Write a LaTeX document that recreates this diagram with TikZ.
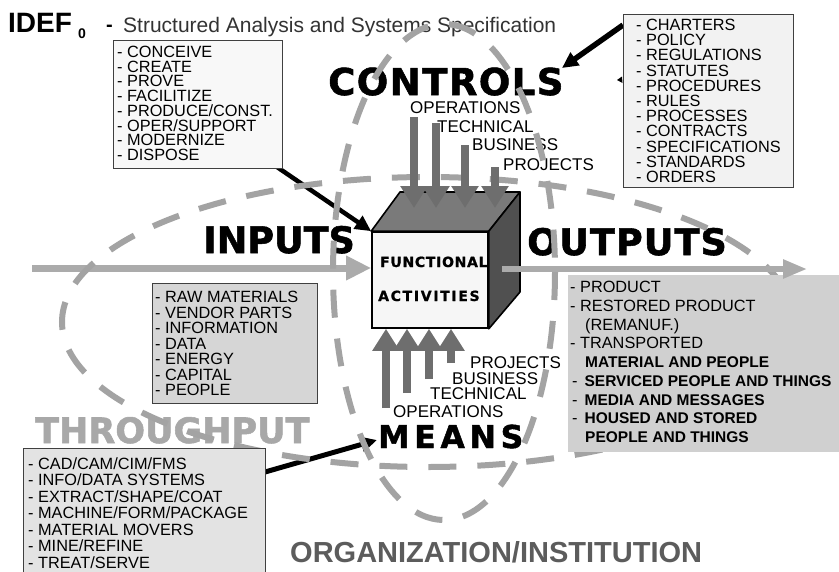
\documentclass[tikz,border=0pt]{standalone}
\usepackage{fontspec}
\setmainfont{Liberation Sans}
\newfontfamily\heavy{DejaVu Sans}
\usetikzlibrary{arrows.meta}
\definecolor{dashgray}{HTML}{A3A3A3}
\definecolor{arrowgray}{HTML}{6E6E6E}
\definecolor{iogray}{HTML}{ABABAB}
\definecolor{topc}{HTML}{7A7A7A}
\definecolor{rightc}{HTML}{505050}
\definecolor{frontc}{HTML}{F6F6F6}
\definecolor{thrugray}{HTML}{A8A8A8}
\definecolor{orggray}{HTML}{5C5C5C}
\definecolor{titlegray}{HTML}{333333}
\definecolor{boxline}{HTML}{404040}
\begin{document}
\begin{tikzpicture}[x=1pt,y=-1pt,
  biglabel/.style={anchor=base west, inner sep=0},
  smalllabel/.style={anchor=base west, inner sep=0, font=\fontsize{17}{17}\selectfont},
  listtext/.style={anchor=north west, inner sep=0, align=left},
  listbox/.style={draw=boxline, line width=1pt, anchor=north west, inner sep=0},
  ctrlarrow/.style={draw=arrowgray, line width=8pt, -{Triangle[length=22pt,width=26pt]}},
  inarrow/.style={draw=iogray, line width=7pt, -{Triangle[length=25pt,width=23pt]}},
  outarrow/.style={draw=iogray, line width=5.5pt, -{Triangle[length=24pt,width=18pt]}},
  blackarrow/.style={draw=black, line width=4.5pt, -{Triangle[length=16pt,width=15pt]}},
  dashring/.style={draw=dashgray, line width=6pt, dash pattern=on 28pt off 21pt}
]
\useasboundingbox (0,0) rectangle (839,571);
\fill[white] (0,0) rectangle (839,571);

% ---------- title ----------
\node[biglabel, font=\bfseries\fontsize{28}{28}\selectfont] (idef) at (8,32) {IDEF};
\node[biglabel, font=\bfseries\fontsize{14}{14}\selectfont] (sub0) at (78,38) {0};
\node[biglabel, font=\bfseries\fontsize{20}{20}\selectfont] (titledash) at (106,31) {-};
\node[biglabel, font=\fontsize{21}{21}\selectfont, text=titlegray] (subtitle) at (123,32) {Structured Analysis and Systems Specification};

% ---------- big labels ----------
\node[biglabel, font=\heavy\bfseries\fontsize{37}{37}\selectfont\addfontfeatures{LetterSpace=4,FakeBold=1.5}] (controls) at (328,95) {CONTROLS};
\node[biglabel, font=\heavy\bfseries\fontsize{36.5}{36.5}\selectfont\addfontfeatures{FakeBold=1.5}] (inputs) at (203,253) {INPUTS};
\node[biglabel, font=\heavy\bfseries\fontsize{36.5}{36.5}\selectfont\addfontfeatures{LetterSpace=3,FakeBold=1.5}] (outputs) at (527,255) {OUTPUTS};
\node[biglabel, font=\heavy\bfseries\fontsize{31.5}{31.5}\selectfont\addfontfeatures{LetterSpace=15,FakeBold=1.5}] (means) at (378,448) {MEANS};
\node[biglabel, font=\heavy\bfseries\fontsize{35}{35}\selectfont\addfontfeatures{FakeBold=1.5}, text=thrugray] (through) at (35,443) {THROUGHPUT};
\node[biglabel, font=\bfseries\fontsize{29}{29}\selectfont, text=orggray] (org) at (290,562) {ORGANIZATION/INSTITUTION};

% ---------- small labels ----------
\node[smalllabel] (cop) at (410,113) {OPERATIONS};
\node[smalllabel] (cte) at (437,132) {TECHNICAL};
\node[smalllabel] (cbu) at (472,150) {BUSINESS};
\node[smalllabel] (cpr) at (503,170) {PROJECTS};
\node[smalllabel] (mpr) at (470,368) {PROJECTS};
\node[smalllabel] (mbu) at (452,384) {BUSINESS};
\node[smalllabel] (mte) at (430,399) {TECHNICAL};
\node[smalllabel] (mop) at (393,417) {OPERATIONS};

% ---------- coordinates ----------
\coordinate (inS) at (32,268);
\coordinate (outS) at (502,269);
\coordinate (outE) at (807,269);
\coordinate (lcS) at (255,152);
\coordinate (ctS) at (623,25);
\coordinate (ctE) at (562,68);
\coordinate (mbS) at (265,472);
\coordinate (mbE) at (377,440);

% ---------- cube front (needed for anchors) ----------
\node[draw, line width=1.6pt, fill=frontc, minimum width=116, minimum height=96, inner sep=0] (front) at (430,280) {};

% ---------- input arrow ----------
\draw[inarrow] (inS) -- (inS -| front.west);

% ---------- black connectors ----------
\draw[blackarrow] (lcS) -- (front.north west);
\draw[blackarrow, line width=5.5pt] (ctS) -- (ctE);
\draw[blackarrow, line width=5pt] (mbS) -- (mbE);
\fill (617,80) -- (622,76.5) -- (622.5,83) -- cycle;

% ---------- dashed ellipses ----------
\draw[dashring] (428,322) ellipse [x radius=366, y radius=145];
\draw[dashring] (444,272) ellipse [x radius=111, y radius=248];

% ---------- boxes ----------
\node[listbox, fill={rgb,255:red,248;green,248;blue,248}, minimum width=169, minimum height=128] (lc) at (113,40) {};
\node[listtext, font=\fontsize{16.3}{14.7}\selectfont] (lctext) at (117,46) {- CONCEIVE\\- CREATE\\- PROVE\\- FACILITIZE\\- PRODUCE/CONST.\\- OPER/SUPPORT\\- MODERNIZE\\- DISPOSE};

\node[listbox, fill={rgb,255:red,242;green,242;blue,242}, minimum width=170, minimum height=173] (ctl) at (623,14) {};
\node[listtext, font=\fontsize{16.3}{15.2}\selectfont] (ctltext) at (636,19) {- CHARTERS\\- POLICY\\- REGULATIONS\\- STATUTES\\- PROCEDURES\\- RULES\\- PROCESSES\\- CONTRACTS\\- SPECIFICATIONS\\- STANDARDS\\- ORDERS};

\node[listbox, fill={rgb,255:red,214;green,214;blue,214}, minimum width=165, minimum height=120] (inb) at (152,283) {};
\node[listtext, font=\fontsize{16.3}{15.5}\selectfont] (inbtext) at (155,291) {- RAW MATERIALS\\- VENDOR PARTS\\- INFORMATION\\- DATA\\- ENERGY\\- CAPITAL\\- PEOPLE};

\node[listbox, fill={rgb,255:red,227;green,227;blue,227}, minimum width=242, minimum height=130] (mb) at (23,448) {};
\node[listtext, font=\fontsize{16.3}{16.5}\selectfont] (mbtext) at (28,457) {- CAD/CAM/CIM/FMS\\- INFO/DATA SYSTEMS\\- EXTRACT/SHAPE/COAT\\- MACHINE/FORM/PACKAGE\\- MATERIAL MOVERS\\- MINE/REFINE\\- TREAT/SERVE};

\node[anchor=north west, inner sep=0, fill={rgb,255:red,208;green,208;blue,208}, minimum width=275, minimum height=177] (ob) at (568,275) {};
\node[listtext, font=\fontsize{16.3}{18.75}\selectfont] (obtext) at (570,281) {- PRODUCT\\- RESTORED PRODUCT\\\hspace*{15pt}(REMANUF.)\\- TRANSPORTED\\\hspace*{15pt}{\bfseries\fontsize{15.5}{18.75}\selectfont MATERIAL AND PEOPLE}\\\hspace*{2pt}-\hspace*{7pt}{\bfseries\fontsize{15.5}{18.75}\selectfont SERVICED PEOPLE AND THINGS}\\\hspace*{2pt}-\hspace*{7pt}{\bfseries\fontsize{15.5}{18.75}\selectfont MEDIA AND MESSAGES}\\\hspace*{2pt}-\hspace*{7pt}{\bfseries\fontsize{15.5}{18.75}\selectfont HOUSED AND STORED}\\\hspace*{15pt}{\bfseries\fontsize{15.5}{18.75}\selectfont PEOPLE AND THINGS}};

% ---------- cube ----------
\filldraw[fill=topc, line width=1.6pt, line join=round] (front.north west) -- (400,192) -- (520,192) -- (front.north east) -- cycle;
\filldraw[fill=rightc, line width=1.6pt, line join=round] (front.north east) -- (520,192) -- (520,292) -- (front.south east) -- cycle;
\node[draw, line width=1.6pt, fill=frontc, minimum width=116, minimum height=96, inner sep=0] (front2) at (front) {};
\node[biglabel, font=\heavy\bfseries\fontsize{14}{14}\selectfont\addfontfeatures{LetterSpace=5,FakeBold=1}] (func) at (380,267) {FUNCTIONAL};
\node[biglabel, font=\heavy\bfseries\fontsize{14}{14}\selectfont\addfontfeatures{LetterSpace=12,FakeBold=1}] (acts) at (378,301) {ACTIVITIES};
\draw[outarrow] (outS) -- (outE);

% ---------- control and means arrows ----------
\coordinate (c1) at (414,117);
\coordinate (c2) at (436,123);
\coordinate (c3) at (465,145);
\coordinate (c4) at (495,167);
\coordinate (ctip) at (0,208);
\foreach \c in {c1,c2,c3,c4} \draw[ctrlarrow] (\c) -- (\c |- ctip);
\coordinate (m1) at (386,408);
\coordinate (m2) at (407,393);
\coordinate (m3) at (429,379);
\coordinate (m4) at (451,363);
\foreach \m in {m1,m2,m3,m4} \draw[ctrlarrow] (\m) -- (\m |- front.south);
\end{tikzpicture}
\end{document}
